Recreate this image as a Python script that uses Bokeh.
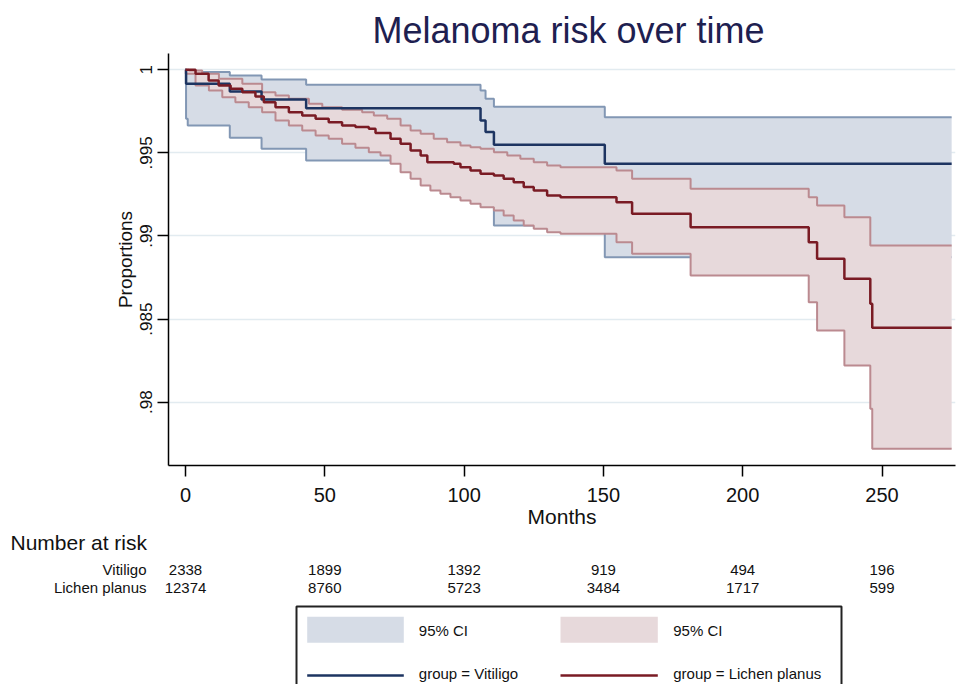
import numpy as np
from bokeh.plotting import figure
from bokeh.models import Range1d, FixedTicker
from bokeh.layouts import column
from bokeh.embed import file_html
from bokeh.resources import INLINE
from bokeh.core.properties import value

FONT = "Liberation Sans"

# ---------------- data ----------------
title_text = "Melanoma risk over time"
x_label = "Months"
y_label = "Proportions"
x_ticks = [0, 50, 100, 150, 200, 250]
y_ticks = [0.98, 0.985, 0.99, 0.995, 1.0]
y_tick_labels = [".98", ".985", ".99", ".995", "1"]

# Vitiligo: Kaplan-Meier estimate and 95% CI
vit_t = [0, 0.2, 0.8, 15.9, 27.3, 43.3, 105.9, 107.7, 110.7, 150.5, 275]
vit_s = [1, 0.99916, 0.99916, 0.99869, 0.99821, 0.99769, 0.99695, 0.99625, 0.99549, 0.99434, 0.99434]
vit_hi = [1, 0.99986, 0.99986, 0.99966, 0.99942, 0.99910, 0.99876, 0.99826, 0.99777, 0.99715, 0.99715]
vit_lo = [1, 0.99705, 0.99665, 0.99591, 0.99525, 0.99454, 0.99350, 0.99200, 0.99063, 0.98872, 0.98872]

# Lichen planus: Kaplan-Meier estimate
lp_t = [0, 3.6, 8.3, 11.9, 16.2, 20.4, 25.1, 28.1, 32.3, 37.1,
        41.9, 46.7, 51.4, 56.2, 61.0, 65.8, 68.2, 73.6, 77.2, 80.8,
        84.4, 86.8, 96.3, 98.7, 102.3, 105.9, 110.7, 114.2, 117.8, 121.4,
        125.0, 129.8, 134.6, 154.7, 160.3, 181.3, 223.7, 226.7, 236.5, 245.8,
        246.5, 275]
lp_s = [1, 0.99976, 0.99936, 0.99906, 0.99886, 0.99865, 0.99839, 0.99805, 0.99775, 0.99745,
        0.99725, 0.99705, 0.99685, 0.99665, 0.99655, 0.99645, 0.99620, 0.99585, 0.99555, 0.99514,
        0.99484, 0.99444, 0.99434, 0.99414, 0.99394, 0.99374, 0.99364, 0.99344, 0.99324, 0.99294,
        0.99274, 0.99244, 0.99233, 0.99203, 0.99134, 0.99053, 0.98963, 0.98863, 0.98742, 0.98592,
        0.98448, 0.98448]
# Lichen planus: upper 95% CI
lp_hi_t = [0, 1.2, 6.0, 12.0, 20.4, 27.5, 32.3, 37.1, 44.3, 49.1,
           56.2, 63.4, 67.6, 72.4, 77.2, 80.8, 84.4, 89.1, 93.9, 98.7,
           102.3, 105.9, 110.7, 115.5, 120.2, 125.0, 129.8, 134.6, 154.7, 160.3,
           181.3, 223.7, 226.7, 236.5, 245.8, 275]
lp_hi = [1, 0.99996, 0.99976, 0.99946, 0.99916, 0.99865, 0.99845, 0.99826, 0.99795, 0.99775,
         0.99759, 0.99745, 0.99725, 0.99705, 0.99665, 0.99635, 0.99615, 0.99585, 0.99564, 0.99545,
         0.99534, 0.99525, 0.99504, 0.99484, 0.99464, 0.99444, 0.99424, 0.99414, 0.99394, 0.99344,
         0.99284, 0.99233, 0.99183, 0.99113, 0.98943, 0.98943]
# Lichen planus: lower 95% CI
lp_lo_t = [0, 0.1, 3.6, 8.4, 13.2, 17.9, 22.7, 27.5, 32.3, 37.1,
           41.9, 46.7, 51.4, 56.2, 61.0, 65.8, 70.0, 73.6, 77.2, 80.8,
           84.4, 87.9, 91.5, 95.1, 98.7, 102.3, 105.9, 110.7, 114.2, 117.8,
           121.4, 125.0, 129.8, 134.6, 154.7, 160.3, 181.3, 223.7, 226.7, 236.5,
           245.8, 246.5, 275]
lp_lo = [1, 0.99976, 0.99906, 0.99875, 0.99835, 0.99805, 0.99775, 0.99745, 0.99695, 0.99665,
         0.99635, 0.99605, 0.99585, 0.99555, 0.99531, 0.99504, 0.99484, 0.99434, 0.99384, 0.99344,
         0.99304, 0.99274, 0.99254, 0.99233, 0.99214, 0.99194, 0.99173, 0.99153, 0.99123, 0.99093,
         0.99063, 0.99043, 0.99023, 0.99013, 0.98963, 0.98893, 0.98762, 0.98602, 0.98431, 0.98221,
         0.97960, 0.97720, 0.97720]

# Number at risk table
risk_title = "Number at risk"
group_names = ["Vitiligo", "Lichen planus"]
risk_times = [0, 50, 100, 150, 200, 250]
risk_vit = [2338, 1899, 1392, 919, 494, 196]
risk_lp = [12374, 8760, 5723, 3484, 1717, 599]

legend_ci = "95% CI"
legend_lines = ["group = Vitiligo", "group = Lichen planus"]

# ---------------- styles ----------------
BLUE_FILL = "#d6dce6"
BLUE_CI = "#8297b4"
PINK_FILL = "#e7d9db"
PINK_CI = "#bb8a90"
NAVY = "#1d3461"
MAROON = "#7a1b24"
GRID = "#e2ebf0"
TITLE_COLOR = "#1e2050"
TXT = "#111111"


def hold(t_src, v_src, t_new):
    """Value of a right-continuous step function at the given times."""
    idx = np.searchsorted(np.asarray(t_src), np.asarray(t_new), side="right") - 1
    return np.asarray(v_src)[np.clip(idx, 0, None)]


# horizontal pixel mapping of the months axis (page coords)
X0_PX, PX_PER_MONTH = 185.0, 2.786


def month_at(px):
    return (px - X0_PX) / PX_PER_MONTH


W = 957
H1 = 530
H2 = 154

p = figure(width=W, height=H1,
           x_range=Range1d(month_at(168), month_at(955)),
           y_range=Range1d(0.97619, 1.00098),
           output_backend="svg", toolbar_location=None,
           min_border_left=168, min_border_right=2,
           min_border_top=53, min_border_bottom=65,
           title=title_text)
p.frame_align = False
p.outline_line_color = None
p.background_fill_color = "white"
p.border_fill_color = "white"

p.title.text_font = FONT
p.title.text_font_size = "36px"
p.title.text_font_style = "normal"
p.title.text_color = TITLE_COLOR
p.title.align = "left"
p.title.offset = 204
p.title.standoff = 5

# Vitiligo band
p.varea_step(x=vit_t, y1=vit_lo, y2=vit_hi, step_mode="after",
             fill_color=BLUE_FILL, fill_alpha=1.0)
p.step(vit_t, vit_hi, mode="after", line_color=BLUE_CI, line_width=2)
p.step(vit_t, vit_lo, mode="after", line_color=BLUE_CI, line_width=2)

# Lichen planus band (union of CI change times)
band_t = np.union1d(lp_hi_t, lp_lo_t)
band_hi = hold(lp_hi_t, lp_hi, band_t)
band_lo = hold(lp_lo_t, lp_lo, band_t)
p.varea_step(x=band_t, y1=band_lo, y2=band_hi, step_mode="after",
             fill_color=PINK_FILL, fill_alpha=1.0)
p.step(lp_hi_t, lp_hi, mode="after", line_color=PINK_CI, line_width=2)
p.step(lp_lo_t, lp_lo, mode="after", line_color=PINK_CI, line_width=2)

# KM curves
p.step(vit_t, vit_s, mode="after", line_color=NAVY, line_width=2.5)
p.step(lp_t, lp_s, mode="after", line_color=MAROON, line_width=2.5)

# axes
xa = p.xaxis[0]
xa.ticker = FixedTicker(ticks=x_ticks)
xa.minor_tick_line_color = None
xa.major_tick_in = 0
xa.major_tick_out = 11
xa.major_tick_line_width = 1.5
xa.major_tick_line_color = "black"
xa.axis_line_color = "black"
xa.axis_line_width = 1.5
xa.major_label_text_font = FONT
xa.major_label_text_font_size = "20px"
xa.major_label_text_color = TXT
xa.major_label_standoff = 11
xa.axis_label = x_label
xa.axis_label_text_font = FONT
xa.axis_label_text_font_size = "21px"
xa.axis_label_text_font_style = "normal"
xa.axis_label_text_color = TXT
xa.axis_label_standoff = 0

ya = p.yaxis[0]
ya.ticker = FixedTicker(ticks=y_ticks)
ya.major_label_overrides = {t: s for t, s in zip(y_ticks, y_tick_labels)}
ya.major_label_orientation = "vertical"
ya.minor_tick_line_color = None
ya.major_tick_in = 0
ya.major_tick_out = 11
ya.major_tick_line_width = 1.5
ya.major_tick_line_color = "black"
ya.axis_line_color = "black"
ya.axis_line_width = 1.5
ya.major_label_text_font = FONT
ya.major_label_text_font_size = "17px"
ya.major_label_text_color = TXT
ya.major_label_standoff = 5
ya.axis_label = y_label
ya.axis_label_text_font = FONT
ya.axis_label_text_font_size = "19px"
ya.axis_label_text_font_style = "normal"
ya.axis_label_text_color = TXT
ya.axis_label_standoff = 2

p.xgrid.visible = False
p.ygrid.grid_line_color = GRID
p.ygrid.grid_line_width = 1.5

# ---------------- number at risk + legend panel ----------------
p2 = figure(width=W, height=H2,
            x_range=Range1d(month_at(0), month_at(W)),
            y_range=Range1d(684, 530),
            output_backend="svg", toolbar_location=None,
            min_border=0, x_axis_location=None, y_axis_location=None)
p2.frame_align = False
p2.extra_x_ranges = {"px": Range1d(0, W)}
p2.outline_line_color = None
p2.grid.visible = False

p2.text(x=[10], y=[542], text=[risk_title], x_range_name="px",
        text_font=value(FONT), text_font_size="21px", text_color=TXT,
        text_align="left", text_baseline="middle")
row_y = [569, 587]
p2.text(x=[146, 146], y=row_y, text=group_names, x_range_name="px",
        text_font=value(FONT), text_font_size="15px", text_color=TXT,
        text_align="right", text_baseline="middle")
p2.text(x=risk_times, y=[row_y[0]] * len(risk_times), text=[str(v) for v in risk_vit],
        text_font=value(FONT), text_font_size="15px", text_color=TXT,
        text_align="center", text_baseline="middle")
p2.text(x=risk_times, y=[row_y[1]] * len(risk_times), text=[str(v) for v in risk_lp],
        text_font=value(FONT), text_font_size="15px", text_color=TXT,
        text_align="center", text_baseline="middle")

# legend box
p2.quad(left=[296], right=[841], top=[606], bottom=[700], x_range_name="px",
        fill_color="white", line_color="#222222", line_width=2)
p2.quad(left=[306.7, 560], right=[403.3, 657.3], top=[616.3, 616.3], bottom=[642.3, 642.3],
        x_range_name="px", fill_color=[BLUE_FILL, PINK_FILL], line_color=None)
p2.text(x=[418.3, 672.7], y=[630, 630], text=[legend_ci, legend_ci], x_range_name="px",
        text_font=value(FONT), text_font_size="15px", text_color=TXT,
        text_align="left", text_baseline="middle")
p2.segment(x0=[306.7, 560], x1=[403.3, 657.3], y0=[675, 675], y1=[675, 675],
           x_range_name="px", line_color=[NAVY, MAROON], line_width=2.5)
p2.text(x=[418.3, 672.7], y=[673, 673], text=legend_lines, x_range_name="px",
        text_font=value(FONT), text_font_size="15px", text_color=TXT,
        text_align="left", text_baseline="middle")

layout = column(p, p2, spacing=0)
open("out.html", "w").write(file_html(layout, INLINE))
